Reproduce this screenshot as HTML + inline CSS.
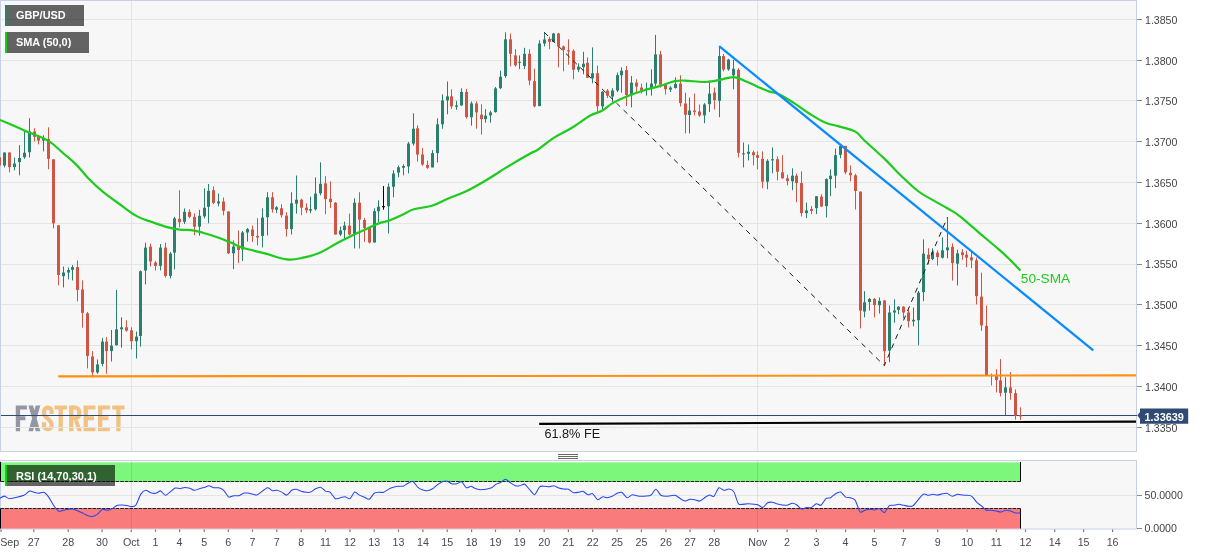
<!DOCTYPE html><html><head><meta charset="utf-8"><title>GBP/USD</title>
<style>html,body{margin:0;padding:0;background:#fff;}svg{display:block;will-change:transform;opacity:0.9999}text{font-family:"Liberation Sans",sans-serif;}</style></head><body>
<svg width="1207" height="555" viewBox="0 0 1207 555">
<rect x="0" y="0" width="1207" height="555" fill="#ffffff"/>
<rect x="0.5" y="0.5" width="1136.0" height="451.0" fill="#f7f7f7" stroke="#c9d0e6" stroke-width="1"/>
<rect x="0.5" y="460.5" width="1136.0" height="68.5" fill="#f7f7f7" stroke="#c9d0e6" stroke-width="1"/>
<path d="M15.8 405.5H20.1V431.3H15.8ZM15.8 405.5H26.9V409.5H15.8ZM15.8 416.3H25.4V420.2H15.8ZM28.4 405.5H33L40.3 431.3H35.7ZM35.7 405.5H40.3L33 431.3H28.4Z" fill="#9496a4"/>
<path d="M54.5 405.5H66.9V409.5H54.5ZM58.55 405.5H62.85V431.3H58.55ZM83.6 405.5H87.89999999999999V431.3H83.6ZM83.6 405.5H95.5V409.5H83.6ZM83.6 416.3H94.0V420.2H83.6ZM83.6 427.3H95.5V431.3H83.6ZM98 405.5H102.3V431.3H98ZM98 405.5H109.9V409.5H98ZM98 416.3H108.4V420.2H98ZM98 427.3H109.9V431.3H98ZM112.2 405.5H124.60000000000001V409.5H112.2ZM116.25 405.5H120.55V431.3H116.25ZM69.1 405.5H73.4V431.3H69.1ZM77.6 419.6L82 431.3H77.5L74 420.4Z" fill="#f1c283"/>
<path d="M71.2 407.5H75.2A4 4 0 0 1 79.2 411.5V414.2A4 4 0 0 1 75.2 418.2H71.2" fill="none" stroke="#f1c283" stroke-width="4.1"/>
<path d="M51.6 414V411.3A3.6 3.6 0 0 0 48 407.6H47.6A3.6 3.6 0 0 0 44 411.3V413.2C44 418 51.6 419.5 51.6 424.6V425.5A3.6 3.6 0 0 1 48 429.2H47.6A3.6 3.6 0 0 1 44 425.5V422.3" fill="none" stroke="#f1c283" stroke-width="4.2"/>
<g stroke="#e4e4e4" stroke-width="1" shape-rendering="crispEdges">
<line x1="1" x2="1136" y1="19.5" y2="19.5"/>
<line x1="1" x2="1136" y1="60.5" y2="60.5"/>
<line x1="1" x2="1136" y1="100.5" y2="100.5"/>
<line x1="1" x2="1136" y1="141.5" y2="141.5"/>
<line x1="1" x2="1136" y1="182.5" y2="182.5"/>
<line x1="1" x2="1136" y1="223.5" y2="223.5"/>
<line x1="1" x2="1136" y1="264.5" y2="264.5"/>
<line x1="1" x2="1136" y1="304.5" y2="304.5"/>
<line x1="1" x2="1136" y1="345.5" y2="345.5"/>
<line x1="1" x2="1136" y1="386.5" y2="386.5"/>
<line x1="1" x2="1136" y1="427.5" y2="427.5"/>
<line x1="131.5" x2="131.5" y1="1" y2="451"/>
<line x1="757.5" x2="757.5" y1="1" y2="451"/>
</g>
<line x1="1" x2="1137" y1="415.5" y2="415.5" stroke="#2f4a73" stroke-width="1" shape-rendering="crispEdges"/>
<g stroke-width="1"><line x1="-0.5" x2="-0.5" y1="149.7" y2="174.6" stroke="#cf5544"/><line x1="4.5" x2="4.5" y1="152.5" y2="167.4" stroke="#2b806d"/><line x1="9.5" x2="9.5" y1="152.5" y2="172.4" stroke="#cf5544"/><line x1="14.5" x2="14.5" y1="157.5" y2="170.4" stroke="#2b806d"/><line x1="19.5" x2="19.5" y1="145.2" y2="175.4" stroke="#2b806d"/><line x1="24.5" x2="24.5" y1="131.5" y2="158.8" stroke="#2b806d"/><line x1="29.5" x2="29.5" y1="118.2" y2="157.5" stroke="#2b806d"/><line x1="34.5" x2="34.5" y1="128.2" y2="141.4" stroke="#cf5544"/><line x1="38.5" x2="38.5" y1="134.8" y2="144.4" stroke="#cf5544"/><line x1="43.5" x2="43.5" y1="135.3" y2="151.4" stroke="#2b806d"/><line x1="48.5" x2="48.5" y1="127.3" y2="169.3" stroke="#cf5544"/><line x1="53.5" x2="53.5" y1="159.3" y2="228.3" stroke="#cf5544"/><line x1="58.5" x2="58.5" y1="225.3" y2="285.4" stroke="#cf5544"/><line x1="63.5" x2="63.5" y1="266.5" y2="287.4" stroke="#2b806d"/><line x1="68.5" x2="68.5" y1="267.5" y2="279.4" stroke="#2b806d"/><line x1="72.5" x2="72.5" y1="265.1" y2="280.4" stroke="#2b806d"/><line x1="77.5" x2="77.5" y1="260.5" y2="301.4" stroke="#cf5544"/><line x1="82.5" x2="82.5" y1="280.3" y2="327.7" stroke="#cf5544"/><line x1="87.5" x2="87.5" y1="312.0" y2="368.4" stroke="#cf5544"/><line x1="92.5" x2="92.5" y1="351.1" y2="377.4" stroke="#cf5544"/><line x1="97.5" x2="97.5" y1="359.5" y2="373.8" stroke="#2b806d"/><line x1="102.5" x2="102.5" y1="338.0" y2="366.4" stroke="#2b806d"/><line x1="106.5" x2="106.5" y1="337.2" y2="373.8" stroke="#cf5544"/><line x1="111.5" x2="111.5" y1="330.0" y2="361.5" stroke="#2b806d"/><line x1="116.5" x2="116.5" y1="289.9" y2="345.6" stroke="#2b806d"/><line x1="121.5" x2="121.5" y1="317.3" y2="347.6" stroke="#2b806d"/><line x1="126.5" x2="126.5" y1="320.3" y2="331.6" stroke="#cf5544"/><line x1="131.5" x2="131.5" y1="327.3" y2="349.5" stroke="#cf5544"/><line x1="136.5" x2="136.5" y1="331.6" y2="358.5" stroke="#2b806d"/><line x1="140.5" x2="140.5" y1="270.5" y2="346.6" stroke="#2b806d"/><line x1="145.5" x2="145.5" y1="242.6" y2="284.4" stroke="#2b806d"/><line x1="150.5" x2="150.5" y1="243.6" y2="266.5" stroke="#cf5544"/><line x1="155.5" x2="155.5" y1="261.1" y2="270.5" stroke="#cf5544"/><line x1="160.5" x2="160.5" y1="244.0" y2="270.5" stroke="#2b806d"/><line x1="165.5" x2="165.5" y1="242.6" y2="277.5" stroke="#cf5544"/><line x1="170.5" x2="170.5" y1="252.0" y2="278.4" stroke="#2b806d"/><line x1="174.5" x2="174.5" y1="216.8" y2="269.5" stroke="#2b806d"/><line x1="179.5" x2="179.5" y1="190.3" y2="227.3" stroke="#cf5544"/><line x1="184.5" x2="184.5" y1="208.4" y2="224.1" stroke="#2b806d"/><line x1="189.5" x2="189.5" y1="209.4" y2="218.2" stroke="#cf5544"/><line x1="194.5" x2="194.5" y1="213.4" y2="235.3" stroke="#cf5544"/><line x1="199.5" x2="199.5" y1="209.8" y2="235.7" stroke="#2b806d"/><line x1="204.5" x2="204.5" y1="188.4" y2="218.4" stroke="#2b806d"/><line x1="208.5" x2="208.5" y1="184.0" y2="223.3" stroke="#2b806d"/><line x1="213.5" x2="213.5" y1="186.4" y2="204.3" stroke="#cf5544"/><line x1="218.5" x2="218.5" y1="193.5" y2="206.4" stroke="#2b806d"/><line x1="223.5" x2="223.5" y1="197.5" y2="215.4" stroke="#cf5544"/><line x1="228.5" x2="228.5" y1="211.4" y2="254.0" stroke="#cf5544"/><line x1="233.5" x2="233.5" y1="240.4" y2="269.1" stroke="#2b806d"/><line x1="238.5" x2="238.5" y1="230.6" y2="263.1" stroke="#cf5544"/><line x1="242.5" x2="242.5" y1="231.1" y2="261.0" stroke="#2b806d"/><line x1="247.5" x2="247.5" y1="228.0" y2="241.5" stroke="#2b806d"/><line x1="252.5" x2="252.5" y1="225.6" y2="241.9" stroke="#cf5544"/><line x1="257.5" x2="257.5" y1="218.2" y2="245.4" stroke="#cf5544"/><line x1="262.5" x2="262.5" y1="208.3" y2="247.4" stroke="#2b806d"/><line x1="267.5" x2="267.5" y1="192.2" y2="235.5" stroke="#2b806d"/><line x1="272.5" x2="272.5" y1="192.2" y2="212.6" stroke="#cf5544"/><line x1="276.5" x2="276.5" y1="206.1" y2="213.2" stroke="#2b806d"/><line x1="281.5" x2="281.5" y1="204.3" y2="217.6" stroke="#cf5544"/><line x1="286.5" x2="286.5" y1="212.2" y2="236.5" stroke="#cf5544"/><line x1="291.5" x2="291.5" y1="192.2" y2="234.5" stroke="#2b806d"/><line x1="296.5" x2="296.5" y1="175.5" y2="213.6" stroke="#2b806d"/><line x1="301.5" x2="301.5" y1="198.7" y2="215.2" stroke="#cf5544"/><line x1="306.5" x2="306.5" y1="203.3" y2="213.2" stroke="#cf5544"/><line x1="310.5" x2="310.5" y1="196.7" y2="213.2" stroke="#2b806d"/><line x1="315.5" x2="315.5" y1="177.4" y2="210.6" stroke="#2b806d"/><line x1="320.5" x2="320.5" y1="162.3" y2="195.3" stroke="#2b806d"/><line x1="325.5" x2="325.5" y1="176.2" y2="214.2" stroke="#cf5544"/><line x1="330.5" x2="330.5" y1="181.4" y2="208.1" stroke="#cf5544"/><line x1="335.5" x2="335.5" y1="202.1" y2="234.5" stroke="#cf5544"/><line x1="340.5" x2="340.5" y1="226.6" y2="235.9" stroke="#2b806d"/><line x1="344.5" x2="344.5" y1="221.6" y2="238.5" stroke="#2b806d"/><line x1="349.5" x2="349.5" y1="213.6" y2="235.5" stroke="#cf5544"/><line x1="354.5" x2="354.5" y1="198.3" y2="248.4" stroke="#2b806d"/><line x1="359.5" x2="359.5" y1="192.2" y2="248.4" stroke="#cf5544"/><line x1="364.5" x2="364.5" y1="218.0" y2="241.9" stroke="#cf5544"/><line x1="369.5" x2="369.5" y1="227.9" y2="243.5" stroke="#cf5544"/><line x1="374.5" x2="374.5" y1="208.3" y2="242.5" stroke="#2b806d"/><line x1="378.5" x2="378.5" y1="200.3" y2="222.0" stroke="#2b806d"/><line x1="383.5" x2="383.5" y1="186.1" y2="209.7" stroke="#000"/><line x1="388.5" x2="388.5" y1="183.4" y2="233.5" stroke="#2b806d"/><line x1="393.5" x2="393.5" y1="170.3" y2="197.3" stroke="#2b806d"/><line x1="398.5" x2="398.5" y1="165.6" y2="177.4" stroke="#2b806d"/><line x1="403.5" x2="403.5" y1="164.2" y2="175.4" stroke="#2b806d"/><line x1="408.5" x2="408.5" y1="142.0" y2="173.4" stroke="#2b806d"/><line x1="413.5" x2="413.5" y1="113.3" y2="145.6" stroke="#2b806d"/><line x1="417.5" x2="417.5" y1="125.3" y2="161.5" stroke="#cf5544"/><line x1="422.5" x2="422.5" y1="148.1" y2="165.8" stroke="#cf5544"/><line x1="427.5" x2="427.5" y1="160.5" y2="168.8" stroke="#cf5544"/><line x1="432.5" x2="432.5" y1="150.1" y2="167.4" stroke="#2b806d"/><line x1="437.5" x2="437.5" y1="118.3" y2="162.5" stroke="#2b806d"/><line x1="442.5" x2="442.5" y1="94.3" y2="128.7" stroke="#2b806d"/><line x1="447.5" x2="447.5" y1="81.5" y2="114.3" stroke="#2b806d"/><line x1="451.5" x2="451.5" y1="89.3" y2="108.8" stroke="#cf5544"/><line x1="456.5" x2="456.5" y1="100.8" y2="109.8" stroke="#2b806d"/><line x1="461.5" x2="461.5" y1="88.3" y2="105.8" stroke="#2b806d"/><line x1="466.5" x2="466.5" y1="88.9" y2="118.7" stroke="#cf5544"/><line x1="471.5" x2="471.5" y1="101.4" y2="125.7" stroke="#2b806d"/><line x1="476.5" x2="476.5" y1="101.4" y2="128.7" stroke="#cf5544"/><line x1="481.5" x2="481.5" y1="104.2" y2="134.6" stroke="#cf5544"/><line x1="485.5" x2="485.5" y1="109.2" y2="122.7" stroke="#2b806d"/><line x1="490.5" x2="490.5" y1="110.8" y2="122.7" stroke="#2b806d"/><line x1="495.5" x2="495.5" y1="87.0" y2="112.6" stroke="#2b806d"/><line x1="500.5" x2="500.5" y1="70.7" y2="89.1" stroke="#2b806d"/><line x1="505.5" x2="505.5" y1="32.3" y2="77.8" stroke="#2b806d"/><line x1="510.5" x2="510.5" y1="33.5" y2="66.3" stroke="#cf5544"/><line x1="515.5" x2="515.5" y1="49.4" y2="66.7" stroke="#cf5544"/><line x1="519.5" x2="519.5" y1="55.4" y2="69.1" stroke="#2b806d"/><line x1="524.5" x2="524.5" y1="47.8" y2="69.1" stroke="#2b806d"/><line x1="529.5" x2="529.5" y1="49.4" y2="85.2" stroke="#cf5544"/><line x1="534.5" x2="534.5" y1="68.7" y2="107.3" stroke="#cf5544"/><line x1="539.5" x2="539.5" y1="40.3" y2="106.1" stroke="#2b806d"/><line x1="544.5" x2="544.5" y1="32.3" y2="46.4" stroke="#2b806d"/><line x1="549.5" x2="549.5" y1="36.9" y2="49.2" stroke="#cf5544"/><line x1="553.5" x2="553.5" y1="32.9" y2="42.3" stroke="#2b806d"/><line x1="558.5" x2="558.5" y1="32.9" y2="67.3" stroke="#cf5544"/><line x1="563.5" x2="563.5" y1="45.5" y2="71.3" stroke="#cf5544"/><line x1="568.5" x2="568.5" y1="39.3" y2="64.7" stroke="#cf5544"/><line x1="573.5" x2="573.5" y1="49.4" y2="79.3" stroke="#cf5544"/><line x1="578.5" x2="578.5" y1="63.3" y2="72.1" stroke="#2b806d"/><line x1="583.5" x2="583.5" y1="51.8" y2="74.3" stroke="#2b806d"/><line x1="587.5" x2="587.5" y1="57.4" y2="78.1" stroke="#cf5544"/><line x1="592.5" x2="592.5" y1="47.4" y2="83.3" stroke="#2b806d"/><line x1="597.5" x2="597.5" y1="65.7" y2="111.6" stroke="#cf5544"/><line x1="602.5" x2="602.5" y1="91.0" y2="109.0" stroke="#2b806d"/><line x1="607.5" x2="607.5" y1="89.1" y2="98.1" stroke="#cf5544"/><line x1="612.5" x2="612.5" y1="88.2" y2="102.6" stroke="#2b806d"/><line x1="617.5" x2="617.5" y1="72.5" y2="92.1" stroke="#2b806d"/><line x1="621.5" x2="621.5" y1="67.3" y2="92.7" stroke="#2b806d"/><line x1="626.5" x2="626.5" y1="66.1" y2="106.1" stroke="#cf5544"/><line x1="631.5" x2="631.5" y1="76.1" y2="107.4" stroke="#2b806d"/><line x1="636.5" x2="636.5" y1="79.3" y2="92.0" stroke="#cf5544"/><line x1="641.5" x2="641.5" y1="83.6" y2="93.6" stroke="#cf5544"/><line x1="646.5" x2="646.5" y1="82.6" y2="95.6" stroke="#2b806d"/><line x1="651.5" x2="651.5" y1="69.3" y2="95.6" stroke="#2b806d"/><line x1="655.5" x2="655.5" y1="34.9" y2="86.6" stroke="#2b806d"/><line x1="660.5" x2="660.5" y1="50.8" y2="87.6" stroke="#cf5544"/><line x1="665.5" x2="665.5" y1="83.2" y2="94.6" stroke="#cf5544"/><line x1="670.5" x2="670.5" y1="86.2" y2="92.0" stroke="#2b806d"/><line x1="675.5" x2="675.5" y1="77.3" y2="88.6" stroke="#2b806d"/><line x1="680.5" x2="680.5" y1="75.3" y2="106.5" stroke="#cf5544"/><line x1="685.5" x2="685.5" y1="92.6" y2="133.4" stroke="#cf5544"/><line x1="689.5" x2="689.5" y1="97.5" y2="133.4" stroke="#2b806d"/><line x1="694.5" x2="694.5" y1="93.6" y2="115.4" stroke="#cf5544"/><line x1="699.5" x2="699.5" y1="104.5" y2="116.8" stroke="#cf5544"/><line x1="704.5" x2="704.5" y1="103.1" y2="123.2" stroke="#2b806d"/><line x1="709.5" x2="709.5" y1="80.6" y2="112.1" stroke="#2b806d"/><line x1="714.5" x2="714.5" y1="87.6" y2="109.5" stroke="#cf5544"/><line x1="719.5" x2="719.5" y1="46.0" y2="117.2" stroke="#2b806d"/><line x1="723.5" x2="723.5" y1="54.0" y2="71.4" stroke="#cf5544"/><line x1="728.5" x2="728.5" y1="58.8" y2="70.8" stroke="#2b806d"/><line x1="733.5" x2="733.5" y1="59.8" y2="89.3" stroke="#2b806d"/><line x1="738.5" x2="738.5" y1="68.2" y2="157.4" stroke="#cf5544"/><line x1="743.5" x2="743.5" y1="142.5" y2="167.4" stroke="#2b806d"/><line x1="748.5" x2="748.5" y1="144.5" y2="160.4" stroke="#2b806d"/><line x1="753.5" x2="753.5" y1="150.5" y2="165.4" stroke="#cf5544"/><line x1="757.5" x2="757.5" y1="151.4" y2="169.3" stroke="#cf5544"/><line x1="762.5" x2="762.5" y1="151.4" y2="188.2" stroke="#cf5544"/><line x1="767.5" x2="767.5" y1="159.2" y2="189.2" stroke="#2b806d"/><line x1="772.5" x2="772.5" y1="147.5" y2="173.3" stroke="#2b806d"/><line x1="777.5" x2="777.5" y1="156.4" y2="180.3" stroke="#cf5544"/><line x1="782.5" x2="782.5" y1="155.2" y2="178.7" stroke="#cf5544"/><line x1="787.5" x2="787.5" y1="174.7" y2="185.3" stroke="#cf5544"/><line x1="792.5" x2="792.5" y1="168.3" y2="190.2" stroke="#2b806d"/><line x1="796.5" x2="796.5" y1="173.7" y2="202.2" stroke="#cf5544"/><line x1="801.5" x2="801.5" y1="171.3" y2="216.5" stroke="#cf5544"/><line x1="806.5" x2="806.5" y1="202.6" y2="218.1" stroke="#2b806d"/><line x1="811.5" x2="811.5" y1="206.1" y2="214.1" stroke="#cf5544"/><line x1="816.5" x2="816.5" y1="196.2" y2="214.1" stroke="#2b806d"/><line x1="821.5" x2="821.5" y1="194.2" y2="207.1" stroke="#cf5544"/><line x1="826.5" x2="826.5" y1="178.3" y2="217.5" stroke="#2b806d"/><line x1="830.5" x2="830.5" y1="169.3" y2="196.2" stroke="#2b806d"/><line x1="835.5" x2="835.5" y1="148.5" y2="188.2" stroke="#2b806d"/><line x1="840.5" x2="840.5" y1="143.9" y2="158.2" stroke="#2b806d"/><line x1="845.5" x2="845.5" y1="145.9" y2="174.3" stroke="#cf5544"/><line x1="850.5" x2="850.5" y1="165.4" y2="181.3" stroke="#cf5544"/><line x1="855.5" x2="855.5" y1="173.7" y2="209.5" stroke="#cf5544"/><line x1="860.5" x2="860.5" y1="191.6" y2="328.4" stroke="#cf5544"/><line x1="864.5" x2="864.5" y1="291.2" y2="317.4" stroke="#2b806d"/><line x1="869.5" x2="869.5" y1="298.0" y2="310.5" stroke="#2b806d"/><line x1="874.5" x2="874.5" y1="298.0" y2="317.4" stroke="#cf5544"/><line x1="879.5" x2="879.5" y1="297.5" y2="313.5" stroke="#2b806d"/><line x1="884.5" x2="884.5" y1="300.0" y2="365.6" stroke="#cf5544"/><line x1="889.5" x2="889.5" y1="305.5" y2="362.2" stroke="#2b806d"/><line x1="894.5" x2="894.5" y1="299.2" y2="322.8" stroke="#2b806d"/><line x1="898.5" x2="898.5" y1="306.2" y2="314.3" stroke="#2b806d"/><line x1="903.5" x2="903.5" y1="306.3" y2="318.4" stroke="#cf5544"/><line x1="908.5" x2="908.5" y1="309.7" y2="327.4" stroke="#cf5544"/><line x1="913.5" x2="913.5" y1="307.5" y2="326.4" stroke="#2b806d"/><line x1="918.5" x2="918.5" y1="291.0" y2="345.3" stroke="#2b806d"/><line x1="923.5" x2="923.5" y1="239.4" y2="301.2" stroke="#2b806d"/><line x1="928.5" x2="928.5" y1="248.3" y2="264.3" stroke="#cf5544"/><line x1="932.5" x2="932.5" y1="248.3" y2="260.3" stroke="#2b806d"/><line x1="937.5" x2="937.5" y1="250.3" y2="265.6" stroke="#cf5544"/><line x1="942.5" x2="942.5" y1="237.4" y2="258.7" stroke="#2b806d"/><line x1="947.5" x2="947.5" y1="217.3" y2="258.3" stroke="#2b806d"/><line x1="952.5" x2="952.5" y1="243.4" y2="280.6" stroke="#cf5544"/><line x1="957.5" x2="957.5" y1="249.7" y2="285.5" stroke="#2b806d"/><line x1="962.5" x2="962.5" y1="249.1" y2="259.7" stroke="#cf5544"/><line x1="966.5" x2="966.5" y1="250.7" y2="267.2" stroke="#cf5544"/><line x1="971.5" x2="971.5" y1="252.3" y2="268.2" stroke="#cf5544"/><line x1="976.5" x2="976.5" y1="257.7" y2="304.4" stroke="#cf5544"/><line x1="981.5" x2="981.5" y1="272.6" y2="330.8" stroke="#cf5544"/><line x1="986.5" x2="986.5" y1="305.5" y2="375.5" stroke="#cf5544"/><line x1="991.5" x2="991.5" y1="373.5" y2="385.4" stroke="#cf5544"/><line x1="996.5" x2="996.5" y1="369.3" y2="392.4" stroke="#cf5544"/><line x1="1000.5" x2="1000.5" y1="359.1" y2="396.4" stroke="#cf5544"/><line x1="1005.5" x2="1005.5" y1="377.2" y2="415.2" stroke="#2b806d"/><line x1="1010.5" x2="1010.5" y1="372.1" y2="399.7" stroke="#cf5544"/><line x1="1015.5" x2="1015.5" y1="389.4" y2="419.6" stroke="#cf5544"/><line x1="1020.5" x2="1020.5" y1="407.3" y2="420.0" stroke="#cf5544"/></g>
<g><rect x="-2.0" y="157.2" width="3" height="8.3" fill="#cf5544"/><rect x="3.0" y="152.5" width="3" height="13.0" fill="#2b806d"/><rect x="8.0" y="152.5" width="3" height="14.6" fill="#cf5544"/><rect x="13.0" y="163.5" width="3" height="3.6" fill="#2b806d"/><rect x="18.0" y="158.0" width="3" height="4.1" fill="#2b806d"/><rect x="23.0" y="152.7" width="3" height="4.5" fill="#2b806d"/><rect x="28.0" y="131.5" width="3" height="20.7" fill="#2b806d"/><rect x="33.0" y="131.5" width="3" height="5.3" fill="#cf5544"/><rect x="37.0" y="136.8" width="3" height="3.8" fill="#cf5544"/><rect x="42.0" y="138.4" width="3" height="2.2" fill="#2b806d"/><rect x="47.0" y="138.9" width="3" height="19.9" fill="#cf5544"/><rect x="52.0" y="159.3" width="3" height="64.0" fill="#cf5544"/><rect x="57.0" y="225.3" width="3" height="49.7" fill="#cf5544"/><rect x="62.0" y="272.5" width="3" height="3.7" fill="#2b806d"/><rect x="67.0" y="270.1" width="3" height="2.4" fill="#2b806d"/><rect x="71.0" y="267.1" width="3" height="2.8" fill="#2b806d"/><rect x="76.0" y="267.1" width="3" height="22.8" fill="#cf5544"/><rect x="81.0" y="289.5" width="3" height="23.3" fill="#cf5544"/><rect x="86.0" y="313.3" width="3" height="42.6" fill="#cf5544"/><rect x="91.0" y="356.5" width="3" height="15.9" fill="#cf5544"/><rect x="96.0" y="364.5" width="3" height="7.9" fill="#2b806d"/><rect x="101.0" y="341.6" width="3" height="22.3" fill="#2b806d"/><rect x="105.0" y="341.6" width="3" height="9.5" fill="#cf5544"/><rect x="110.0" y="345.6" width="3" height="5.5" fill="#2b806d"/><rect x="115.0" y="329.3" width="3" height="15.9" fill="#2b806d"/><rect x="120.0" y="327.3" width="3" height="2.0" fill="#2b806d"/><rect x="125.0" y="327.3" width="3" height="3.3" fill="#cf5544"/><rect x="130.0" y="330.3" width="3" height="10.9" fill="#cf5544"/><rect x="135.0" y="336.6" width="3" height="4.6" fill="#2b806d"/><rect x="139.0" y="271.2" width="3" height="64.8" fill="#2b806d"/><rect x="144.0" y="247.6" width="3" height="22.9" fill="#2b806d"/><rect x="149.0" y="246.6" width="3" height="14.9" fill="#cf5544"/><rect x="154.0" y="262.5" width="3" height="3.4" fill="#cf5544"/><rect x="159.0" y="247.6" width="3" height="18.3" fill="#2b806d"/><rect x="164.0" y="247.6" width="3" height="28.3" fill="#cf5544"/><rect x="169.0" y="253.6" width="3" height="22.3" fill="#2b806d"/><rect x="173.0" y="218.4" width="3" height="34.2" fill="#2b806d"/><rect x="178.0" y="218.8" width="3" height="3.4" fill="#cf5544"/><rect x="183.0" y="211.8" width="3" height="10.0" fill="#2b806d"/><rect x="188.0" y="211.8" width="3" height="5.0" fill="#cf5544"/><rect x="193.0" y="216.8" width="3" height="9.9" fill="#cf5544"/><rect x="198.0" y="215.8" width="3" height="10.9" fill="#2b806d"/><rect x="203.0" y="207.8" width="3" height="8.6" fill="#2b806d"/><rect x="207.0" y="190.9" width="3" height="15.9" fill="#2b806d"/><rect x="212.0" y="190.3" width="3" height="12.6" fill="#cf5544"/><rect x="217.0" y="201.5" width="3" height="2.0" fill="#2b806d"/><rect x="222.0" y="201.5" width="3" height="9.3" fill="#cf5544"/><rect x="227.0" y="211.5" width="3" height="41.8" fill="#cf5544"/><rect x="232.0" y="246.5" width="3" height="6.8" fill="#2b806d"/><rect x="237.0" y="247.0" width="3" height="3.0" fill="#cf5544"/><rect x="241.0" y="232.5" width="3" height="16.9" fill="#2b806d"/><rect x="246.0" y="229.1" width="3" height="3.4" fill="#2b806d"/><rect x="251.0" y="229.5" width="3" height="6.4" fill="#cf5544"/><rect x="256.0" y="235.9" width="3" height="1.6" fill="#cf5544"/><rect x="261.0" y="217.6" width="3" height="18.3" fill="#2b806d"/><rect x="266.0" y="197.3" width="3" height="19.9" fill="#2b806d"/><rect x="271.0" y="197.3" width="3" height="12.0" fill="#cf5544"/><rect x="275.0" y="207.3" width="3" height="2.4" fill="#2b806d"/><rect x="280.0" y="208.3" width="3" height="6.9" fill="#cf5544"/><rect x="285.0" y="215.6" width="3" height="13.5" fill="#cf5544"/><rect x="290.0" y="203.3" width="3" height="25.8" fill="#2b806d"/><rect x="295.0" y="199.7" width="3" height="4.0" fill="#2b806d"/><rect x="300.0" y="199.7" width="3" height="8.0" fill="#cf5544"/><rect x="305.0" y="207.7" width="3" height="2.6" fill="#cf5544"/><rect x="309.0" y="209.1" width="3" height="1.5" fill="#2b806d"/><rect x="314.0" y="193.7" width="3" height="15.6" fill="#2b806d"/><rect x="319.0" y="183.8" width="3" height="9.5" fill="#2b806d"/><rect x="324.0" y="183.4" width="3" height="15.7" fill="#cf5544"/><rect x="329.0" y="198.7" width="3" height="3.4" fill="#cf5544"/><rect x="334.0" y="202.7" width="3" height="31.8" fill="#cf5544"/><rect x="339.0" y="230.5" width="3" height="4.0" fill="#2b806d"/><rect x="343.0" y="225.6" width="3" height="4.5" fill="#2b806d"/><rect x="348.0" y="225.6" width="3" height="8.9" fill="#cf5544"/><rect x="353.0" y="202.7" width="3" height="31.8" fill="#2b806d"/><rect x="358.0" y="202.7" width="3" height="16.9" fill="#cf5544"/><rect x="363.0" y="220.0" width="3" height="7.9" fill="#cf5544"/><rect x="368.0" y="227.9" width="3" height="14.6" fill="#cf5544"/><rect x="373.0" y="211.2" width="3" height="31.3" fill="#2b806d"/><rect x="377.0" y="206.7" width="3" height="4.5" fill="#2b806d"/><rect x="382.0" y="206.2" width="3" height="1.0" fill="#000"/><rect x="387.0" y="186.8" width="3" height="19.5" fill="#2b806d"/><rect x="392.0" y="173.5" width="3" height="13.3" fill="#2b806d"/><rect x="397.0" y="167.2" width="3" height="5.4" fill="#2b806d"/><rect x="402.0" y="166.0" width="3" height="1.7" fill="#2b806d"/><rect x="407.0" y="143.6" width="3" height="22.8" fill="#2b806d"/><rect x="412.0" y="128.7" width="3" height="14.9" fill="#2b806d"/><rect x="416.0" y="128.3" width="3" height="26.2" fill="#cf5544"/><rect x="421.0" y="154.5" width="3" height="10.0" fill="#cf5544"/><rect x="426.0" y="165.0" width="3" height="2.8" fill="#cf5544"/><rect x="431.0" y="153.1" width="3" height="14.3" fill="#2b806d"/><rect x="436.0" y="124.3" width="3" height="28.8" fill="#2b806d"/><rect x="441.0" y="100.4" width="3" height="23.9" fill="#2b806d"/><rect x="446.0" y="96.4" width="3" height="4.0" fill="#2b806d"/><rect x="450.0" y="96.4" width="3" height="10.0" fill="#cf5544"/><rect x="455.0" y="105.4" width="3" height="1.4" fill="#2b806d"/><rect x="460.0" y="91.9" width="3" height="13.5" fill="#2b806d"/><rect x="465.0" y="91.9" width="3" height="25.2" fill="#cf5544"/><rect x="470.0" y="103.4" width="3" height="13.9" fill="#2b806d"/><rect x="475.0" y="103.4" width="3" height="9.0" fill="#cf5544"/><rect x="480.0" y="114.7" width="3" height="4.4" fill="#cf5544"/><rect x="484.0" y="115.7" width="3" height="3.4" fill="#2b806d"/><rect x="489.0" y="112.4" width="3" height="2.9" fill="#2b806d"/><rect x="494.0" y="88.4" width="3" height="23.7" fill="#2b806d"/><rect x="499.0" y="76.8" width="3" height="11.3" fill="#2b806d"/><rect x="504.0" y="39.3" width="3" height="36.8" fill="#2b806d"/><rect x="509.0" y="39.3" width="3" height="14.5" fill="#cf5544"/><rect x="514.0" y="55.4" width="3" height="9.9" fill="#cf5544"/><rect x="518.0" y="61.8" width="3" height="1.0" fill="#2b806d"/><rect x="523.0" y="53.8" width="3" height="12.3" fill="#2b806d"/><rect x="528.0" y="53.8" width="3" height="26.8" fill="#cf5544"/><rect x="533.0" y="81.2" width="3" height="25.1" fill="#cf5544"/><rect x="538.0" y="43.5" width="3" height="62.6" fill="#2b806d"/><rect x="543.0" y="39.5" width="3" height="4.0" fill="#2b806d"/><rect x="548.0" y="38.9" width="3" height="3.0" fill="#cf5544"/><rect x="552.0" y="33.5" width="3" height="8.4" fill="#2b806d"/><rect x="557.0" y="33.5" width="3" height="13.0" fill="#cf5544"/><rect x="562.0" y="46.4" width="3" height="3.4" fill="#cf5544"/><rect x="567.0" y="50.2" width="3" height="1.2" fill="#cf5544"/><rect x="572.0" y="50.8" width="3" height="18.9" fill="#cf5544"/><rect x="577.0" y="66.7" width="3" height="3.0" fill="#2b806d"/><rect x="582.0" y="63.7" width="3" height="3.4" fill="#2b806d"/><rect x="586.0" y="62.8" width="3" height="14.9" fill="#cf5544"/><rect x="591.0" y="73.2" width="3" height="5.0" fill="#2b806d"/><rect x="596.0" y="73.2" width="3" height="32.9" fill="#cf5544"/><rect x="601.0" y="91.7" width="3" height="14.7" fill="#2b806d"/><rect x="606.0" y="90.7" width="3" height="5.0" fill="#cf5544"/><rect x="611.0" y="90.5" width="3" height="6.0" fill="#2b806d"/><rect x="616.0" y="75.1" width="3" height="15.4" fill="#2b806d"/><rect x="620.0" y="70.8" width="3" height="4.5" fill="#2b806d"/><rect x="625.0" y="70.1" width="3" height="24.9" fill="#cf5544"/><rect x="630.0" y="82.7" width="3" height="12.5" fill="#2b806d"/><rect x="635.0" y="82.6" width="3" height="4.0" fill="#cf5544"/><rect x="640.0" y="87.6" width="3" height="3.0" fill="#cf5544"/><rect x="645.0" y="88.6" width="3" height="1.0" fill="#2b806d"/><rect x="650.0" y="83.6" width="3" height="5.0" fill="#2b806d"/><rect x="654.0" y="54.4" width="3" height="29.2" fill="#2b806d"/><rect x="659.0" y="54.4" width="3" height="30.2" fill="#cf5544"/><rect x="664.0" y="84.6" width="3" height="4.6" fill="#cf5544"/><rect x="669.0" y="87.6" width="3" height="2.0" fill="#2b806d"/><rect x="674.0" y="84.0" width="3" height="4.0" fill="#2b806d"/><rect x="679.0" y="83.6" width="3" height="19.5" fill="#cf5544"/><rect x="684.0" y="103.5" width="3" height="11.3" fill="#cf5544"/><rect x="688.0" y="110.5" width="3" height="4.5" fill="#2b806d"/><rect x="693.0" y="110.5" width="3" height="1.4" fill="#cf5544"/><rect x="698.0" y="111.5" width="3" height="3.9" fill="#cf5544"/><rect x="703.0" y="104.5" width="3" height="10.9" fill="#2b806d"/><rect x="708.0" y="93.6" width="3" height="10.5" fill="#2b806d"/><rect x="713.0" y="92.6" width="3" height="7.5" fill="#cf5544"/><rect x="718.0" y="56.1" width="3" height="44.7" fill="#2b806d"/><rect x="722.0" y="56.1" width="3" height="13.4" fill="#cf5544"/><rect x="727.0" y="59.6" width="3" height="9.8" fill="#2b806d"/><rect x="732.0" y="68.8" width="3" height="6.5" fill="#2b806d"/><rect x="737.0" y="69.8" width="3" height="83.0" fill="#cf5544"/><rect x="742.0" y="153.4" width="3" height="1.0" fill="#2b806d"/><rect x="747.0" y="151.8" width="3" height="2.0" fill="#2b806d"/><rect x="752.0" y="152.2" width="3" height="3.0" fill="#cf5544"/><rect x="756.0" y="155.2" width="3" height="2.6" fill="#cf5544"/><rect x="761.0" y="158.8" width="3" height="22.9" fill="#cf5544"/><rect x="766.0" y="160.8" width="3" height="20.9" fill="#2b806d"/><rect x="771.0" y="159.2" width="3" height="1.2" fill="#2b806d"/><rect x="776.0" y="159.2" width="3" height="12.5" fill="#cf5544"/><rect x="781.0" y="172.3" width="3" height="6.0" fill="#cf5544"/><rect x="786.0" y="178.3" width="3" height="2.8" fill="#cf5544"/><rect x="791.0" y="175.7" width="3" height="5.6" fill="#2b806d"/><rect x="795.0" y="175.7" width="3" height="7.4" fill="#cf5544"/><rect x="800.0" y="183.1" width="3" height="30.0" fill="#cf5544"/><rect x="805.0" y="210.5" width="3" height="2.6" fill="#2b806d"/><rect x="810.0" y="209.1" width="3" height="1.8" fill="#cf5544"/><rect x="815.0" y="196.2" width="3" height="11.9" fill="#2b806d"/><rect x="820.0" y="196.6" width="3" height="9.9" fill="#cf5544"/><rect x="825.0" y="179.1" width="3" height="27.0" fill="#2b806d"/><rect x="829.0" y="175.7" width="3" height="3.4" fill="#2b806d"/><rect x="834.0" y="155.2" width="3" height="20.5" fill="#2b806d"/><rect x="839.0" y="145.9" width="3" height="8.9" fill="#2b806d"/><rect x="844.0" y="145.9" width="3" height="26.4" fill="#cf5544"/><rect x="849.0" y="172.7" width="3" height="2.6" fill="#cf5544"/><rect x="854.0" y="175.3" width="3" height="15.7" fill="#cf5544"/><rect x="859.0" y="191.6" width="3" height="119.1" fill="#cf5544"/><rect x="863.0" y="302.3" width="3" height="9.2" fill="#2b806d"/><rect x="868.0" y="298.9" width="3" height="3.1" fill="#2b806d"/><rect x="873.0" y="298.9" width="3" height="6.2" fill="#cf5544"/><rect x="878.0" y="300.9" width="3" height="4.4" fill="#2b806d"/><rect x="883.0" y="300.5" width="3" height="50.7" fill="#cf5544"/><rect x="888.0" y="312.5" width="3" height="38.1" fill="#2b806d"/><rect x="893.0" y="310.5" width="3" height="2.0" fill="#2b806d"/><rect x="897.0" y="306.7" width="3" height="3.2" fill="#2b806d"/><rect x="902.0" y="306.7" width="3" height="5.8" fill="#cf5544"/><rect x="907.0" y="312.5" width="3" height="8.7" fill="#cf5544"/><rect x="912.0" y="319.8" width="3" height="1.6" fill="#2b806d"/><rect x="917.0" y="292.6" width="3" height="27.6" fill="#2b806d"/><rect x="922.0" y="253.7" width="3" height="38.4" fill="#2b806d"/><rect x="927.0" y="254.7" width="3" height="4.4" fill="#cf5544"/><rect x="931.0" y="252.1" width="3" height="7.0" fill="#2b806d"/><rect x="936.0" y="252.7" width="3" height="4.4" fill="#cf5544"/><rect x="941.0" y="250.3" width="3" height="7.4" fill="#2b806d"/><rect x="946.0" y="247.4" width="3" height="2.9" fill="#2b806d"/><rect x="951.0" y="246.8" width="3" height="16.3" fill="#cf5544"/><rect x="956.0" y="253.3" width="3" height="10.4" fill="#2b806d"/><rect x="961.0" y="252.3" width="3" height="2.8" fill="#cf5544"/><rect x="965.0" y="254.7" width="3" height="3.0" fill="#cf5544"/><rect x="970.0" y="257.3" width="3" height="3.0" fill="#cf5544"/><rect x="975.0" y="260.3" width="3" height="35.8" fill="#cf5544"/><rect x="980.0" y="296.6" width="3" height="28.8" fill="#cf5544"/><rect x="985.0" y="325.8" width="3" height="49.4" fill="#cf5544"/><rect x="990.0" y="375.2" width="3" height="1.0" fill="#cf5544"/><rect x="995.0" y="375.5" width="3" height="4.5" fill="#cf5544"/><rect x="999.0" y="380.4" width="3" height="12.5" fill="#cf5544"/><rect x="1004.0" y="387.4" width="3" height="5.3" fill="#2b806d"/><rect x="1009.0" y="387.4" width="3" height="5.7" fill="#cf5544"/><rect x="1014.0" y="393.2" width="3" height="22.4" fill="#cf5544"/><rect x="1019.0" y="415.4" width="3" height="1.0" fill="#cf5544"/></g>
<path d="M544.3 32.3L884.3 365.6L947.4 217.3" stroke="#1a1a1a" stroke-width="1" stroke-dasharray="5.2 4.9" fill="none" stroke-linejoin="miter"/>
<line x1="58.3" y1="376.4" x2="1136" y2="375.4" stroke="#ff9012" stroke-width="2.2"/>
<line x1="539.2" y1="423.9" x2="1136" y2="421.6" stroke="#000" stroke-width="2.1"/>
<text x="544.4" y="437.8" font-size="12.7" fill="#181818">61.8% FE</text>
<path d="M0.0 119.9C3.3 121.3 10.6 124.4 16.6 127.0C22.6 129.6 23.5 130.1 29.8 132.8C36.1 135.5 41.5 136.6 48.1 140.6C54.7 144.6 57.4 148.2 63.0 153.0C68.6 157.8 70.9 159.3 76.2 164.6C81.5 169.9 84.2 174.1 89.5 179.5C94.8 184.9 95.9 186.1 102.7 191.6C109.5 197.1 116.4 201.8 123.3 206.8C130.2 211.8 131.6 213.4 137.2 216.4C142.8 219.4 145.1 219.7 151.1 221.8C157.1 223.9 161.2 225.5 167.0 227.1C172.8 228.7 175.2 229.1 180.0 229.7C184.8 230.3 186.3 229.5 190.9 230.1C195.5 230.7 197.2 231.2 202.8 232.7C208.4 234.2 213.1 235.7 218.7 237.7C224.3 239.7 225.9 240.6 230.7 242.6C235.5 244.6 236.1 245.6 242.9 247.8C249.7 250.0 256.1 251.1 264.8 253.4C273.5 255.7 278.7 258.6 286.6 259.4C294.5 260.2 297.7 258.8 304.5 257.4C311.3 256.0 314.0 255.2 320.4 252.4C326.8 249.6 330.0 246.9 336.4 243.5C342.8 240.1 346.7 238.2 352.3 235.5C357.9 232.8 359.0 232.5 364.2 230.1C369.4 227.7 372.9 225.6 378.1 223.6C383.3 221.6 384.8 222.1 390.0 220.2C395.2 218.3 399.2 216.2 404.0 214.0C408.8 211.8 408.3 211.0 413.9 209.3C419.5 207.6 425.0 207.8 431.8 205.7C438.6 203.6 441.1 201.5 447.7 198.7C454.3 195.9 457.2 195.5 465.0 191.8C472.8 188.1 478.2 184.9 486.5 180.0C494.8 175.1 497.7 172.7 506.4 167.4C515.1 162.1 523.8 157.1 530.2 153.5C536.6 149.9 533.4 152.7 538.2 149.5C543.0 146.3 547.3 142.0 554.1 137.6C560.9 133.2 564.8 132.1 572.0 127.7C579.2 123.3 583.9 119.1 589.9 115.7C595.9 112.3 597.1 113.4 601.8 110.8C606.5 108.2 608.0 105.6 613.5 102.6C619.0 99.6 622.9 98.1 629.2 95.6C635.5 93.1 638.7 92.0 645.1 90.0C651.5 88.0 655.0 87.4 661.0 85.6C667.0 83.8 670.1 82.2 674.9 81.2C679.7 80.2 678.9 80.4 684.9 80.6C690.9 80.8 698.0 82.1 704.8 82.0C711.6 81.9 712.9 81.2 718.7 80.2C724.5 79.2 728.2 76.9 733.6 77.1C739.0 77.3 740.8 79.4 745.6 81.3C750.4 83.2 752.7 84.6 757.5 86.7C762.3 88.8 765.2 90.1 769.4 91.6C773.6 93.1 773.6 91.8 778.4 94.0C783.2 96.2 787.1 98.7 793.3 102.6C799.5 106.5 802.8 109.5 809.2 113.5C815.6 117.5 819.1 119.9 825.1 122.5C831.1 125.1 833.0 124.6 839.0 126.4C845.0 128.2 849.9 128.7 854.9 131.4C859.9 134.1 858.1 134.6 863.9 140.0C869.7 145.4 876.9 151.5 884.1 158.4C891.3 165.3 893.2 168.2 900.0 174.7C906.8 181.2 911.1 185.8 917.9 191.0C924.7 196.2 927.8 197.1 933.8 200.6C939.8 204.1 942.6 205.4 947.7 208.5C952.8 211.6 953.0 211.0 959.3 215.9C965.6 220.8 971.2 226.0 979.2 232.8C987.2 239.6 992.7 244.1 999.1 249.7C1005.5 255.3 1006.7 256.5 1011.0 260.7C1015.3 264.9 1018.5 268.6 1020.4 270.6" fill="none" stroke="#1dcb1d" stroke-width="2.2" stroke-linejoin="round" stroke-linecap="butt"/>
<line x1="719.1" y1="46.1" x2="1093.3" y2="350.3" stroke="#0a8aff" stroke-width="2.2"/>
<text x="1020.8" y="283" font-size="13.7" fill="#1dcb1d">50-SMA</text>
<rect x="5" y="5" width="79" height="21" fill="#000" fill-opacity="0.6"/><rect x="5" y="5" width="2" height="21" fill="#2a7f6c"/>
<text x="16" y="19.3" font-size="10.9" font-weight="bold" fill="#fff">GBP/USD</text>
<rect x="5" y="32" width="84" height="21" fill="#000" fill-opacity="0.6"/><rect x="5" y="32" width="2" height="21" fill="#11d011"/>
<text x="16" y="45.9" font-size="10.9" font-weight="bold" fill="#fff">SMA (50,0)</text>
<g font-size="10.6" fill="#444">
<line x1="1137" x2="1141.5" y1="19.5" y2="19.5" stroke="#8a8a8a" stroke-width="1" shape-rendering="crispEdges"/>
<text x="1145" y="23.7">1.3850</text>
<line x1="1137" x2="1141.5" y1="60.5" y2="60.5" stroke="#8a8a8a" stroke-width="1" shape-rendering="crispEdges"/>
<text x="1145" y="64.5">1.3800</text>
<line x1="1137" x2="1141.5" y1="100.5" y2="100.5" stroke="#8a8a8a" stroke-width="1" shape-rendering="crispEdges"/>
<text x="1145" y="105.3">1.3750</text>
<line x1="1137" x2="1141.5" y1="141.5" y2="141.5" stroke="#8a8a8a" stroke-width="1" shape-rendering="crispEdges"/>
<text x="1145" y="146.1">1.3700</text>
<line x1="1137" x2="1141.5" y1="182.5" y2="182.5" stroke="#8a8a8a" stroke-width="1" shape-rendering="crispEdges"/>
<text x="1145" y="186.9">1.3650</text>
<line x1="1137" x2="1141.5" y1="223.5" y2="223.5" stroke="#8a8a8a" stroke-width="1" shape-rendering="crispEdges"/>
<text x="1145" y="227.7">1.3600</text>
<line x1="1137" x2="1141.5" y1="264.5" y2="264.5" stroke="#8a8a8a" stroke-width="1" shape-rendering="crispEdges"/>
<text x="1145" y="268.4">1.3550</text>
<line x1="1137" x2="1141.5" y1="304.5" y2="304.5" stroke="#8a8a8a" stroke-width="1" shape-rendering="crispEdges"/>
<text x="1145" y="309.2">1.3500</text>
<line x1="1137" x2="1141.5" y1="345.5" y2="345.5" stroke="#8a8a8a" stroke-width="1" shape-rendering="crispEdges"/>
<text x="1145" y="350.0">1.3450</text>
<line x1="1137" x2="1141.5" y1="386.5" y2="386.5" stroke="#8a8a8a" stroke-width="1" shape-rendering="crispEdges"/>
<text x="1145" y="390.8">1.3400</text>
<line x1="1137" x2="1141.5" y1="427.5" y2="427.5" stroke="#8a8a8a" stroke-width="1" shape-rendering="crispEdges"/>
<text x="1145" y="431.6">1.3350</text>
</g>
<path d="M1137.3 415.4 L1140 412 L1140 408.4 L1188.2 408.4 L1188.2 423.8 L1140 423.8 L1140 418.8 Z" fill="#2f4a73"/>
<text x="1144.5" y="420.9" font-size="10.9" font-weight="bold" fill="#fff">1.33639</text>
<g stroke="#6e6763" stroke-width="1" shape-rendering="crispEdges"><line x1="558" x2="578" y1="454.5" y2="454.5"/><line x1="558" x2="578" y1="456.5" y2="456.5"/><line x1="558" x2="578" y1="458.5" y2="458.5"/></g>
<line x1="1" x2="1136" y1="495.5" y2="495.5" stroke="#e4e4e4" stroke-width="1" shape-rendering="crispEdges"/>
<rect x="0.5" y="462.4" width="1020" height="19.1" fill="#7cf77c"/>
<rect x="0.5" y="508.6" width="1020" height="20" fill="#fa7b7b"/>
<g stroke="#000" stroke-opacity="0.09" stroke-width="1" shape-rendering="crispEdges"><line x1="131.5" x2="131.5" y1="461" y2="529"/><line x1="757.5" x2="757.5" y1="461" y2="529"/></g>
<g stroke="#000" stroke-width="1" fill="none">
<line x1="0.5" x2="1020.5" y1="481.5" y2="481.5" stroke-dasharray="3.8 0.8" stroke-opacity="0.85"/>
<line x1="0.5" x2="1020.5" y1="508.5" y2="508.5" stroke-dasharray="3.8 0.8" stroke-opacity="0.85"/>
<line x1="1020.5" x2="1020.5" y1="462" y2="481.5"/><line x1="1020.5" x2="1020.5" y1="508.5" y2="528.5"/>
<line x1="0.5" x2="0.5" y1="462" y2="481.5"/><line x1="0.5" x2="0.5" y1="508.5" y2="528.5"/>
</g>
<path d="M0.0 498.3C0.5 498.0 3.2 496.1 4.4 496.1C5.6 496.1 7.6 498.8 9.9 498.7C12.2 498.6 21.6 496.2 23.9 495.3C26.2 494.4 28.2 491.5 29.4 491.1C30.6 490.8 32.7 492.0 33.8 492.3C34.9 492.6 37.6 493.3 38.8 493.3C40.0 493.3 42.5 491.9 43.7 492.3C44.9 492.7 47.5 495.5 48.7 497.1C49.9 498.7 52.5 504.0 53.7 505.6C54.9 507.2 57.5 510.7 58.7 511.2C59.9 511.7 62.0 510.5 63.6 510.2C65.2 509.9 70.5 508.7 72.6 509.0C74.7 509.3 79.8 511.8 81.5 512.6C83.2 513.4 86.2 515.1 87.5 515.6C88.8 516.1 91.3 516.8 92.5 516.6C93.7 516.4 96.2 515.1 97.4 514.2C98.6 513.3 101.2 509.7 102.4 509.2C103.6 508.7 106.2 510.3 107.4 510.2C108.6 510.1 111.1 509.2 112.3 508.6C113.5 508.0 116.1 505.7 117.3 505.3C118.5 504.9 121.1 504.9 122.3 504.9C123.5 504.9 126.3 505.4 127.3 505.6C128.3 505.8 130.2 506.6 131.2 506.6C132.2 506.6 134.7 506.8 135.8 505.3C136.9 503.8 139.6 495.9 140.8 494.1C142.0 492.4 144.6 490.5 145.8 490.3C147.0 490.1 149.5 492.3 150.7 492.7C151.9 493.1 154.5 493.5 155.7 493.3C156.9 493.1 159.5 490.7 160.7 490.9C161.9 491.1 163.9 495.6 165.6 495.3C167.3 495.0 173.3 488.9 175.0 488.1C176.7 487.3 178.8 488.8 180.0 488.7C181.2 488.6 183.7 487.4 184.9 487.4C186.1 487.4 188.8 488.0 189.9 488.3C191.0 488.6 193.4 490.3 194.5 490.3C195.6 490.3 198.2 489.0 199.4 488.7C200.6 488.4 203.3 487.7 204.4 487.4C205.5 487.1 207.7 485.8 208.8 485.8C209.9 485.8 212.6 487.6 213.8 487.8C215.0 488.0 217.5 487.5 218.7 487.8C219.9 488.1 222.5 489.2 223.7 490.3C224.9 491.4 227.5 496.5 228.7 497.1C229.9 497.7 232.4 495.9 233.6 495.7C234.8 495.5 237.8 496.0 239.0 495.7C240.2 495.4 242.9 493.4 243.9 493.1C244.9 492.8 246.8 493.0 247.9 493.1C249.0 493.2 251.8 494.1 252.9 494.3C254.0 494.5 255.8 495.5 257.5 494.7C259.2 493.9 265.7 488.3 267.4 487.8C269.1 487.3 271.3 490.4 272.4 490.7C273.5 491.0 275.7 490.1 276.8 490.3C277.9 490.5 280.5 491.5 281.7 492.1C282.9 492.7 285.5 495.3 286.7 495.1C287.9 494.9 290.6 491.0 291.7 490.3C292.8 489.6 295.1 489.2 296.2 489.3C297.3 489.4 300.0 490.9 301.2 491.3C302.4 491.7 305.1 492.2 306.2 492.3C307.3 492.4 309.5 492.5 310.6 492.1C311.7 491.7 314.3 489.3 315.5 488.7C316.7 488.1 319.3 486.9 320.5 487.2C321.7 487.5 324.4 490.5 325.5 491.1C326.6 491.7 328.8 491.2 330.0 492.1C331.2 493.0 334.2 498.0 335.4 498.7C336.6 499.4 339.3 497.9 340.4 497.7C341.5 497.5 343.9 496.6 345.0 496.7C346.1 496.8 348.8 499.2 349.9 498.7C351.0 498.2 353.6 492.5 354.7 492.1C355.8 491.7 358.2 494.5 359.3 495.1C360.4 495.7 363.1 496.6 364.3 497.1C365.5 497.6 368.0 499.7 369.2 499.3C370.4 498.9 373.0 494.1 374.2 493.3C375.4 492.5 378.1 492.4 379.2 492.3C380.3 492.2 382.6 492.7 383.7 492.3C384.8 491.9 387.6 489.7 388.7 489.1C389.8 488.5 392.4 487.5 393.5 487.2C394.6 486.9 397.3 486.3 398.5 486.2C399.7 486.1 402.3 486.6 403.4 486.2C404.5 485.8 406.9 483.8 408.0 483.2C409.1 482.6 411.8 480.9 413.0 481.4C414.2 481.9 416.7 486.4 417.9 487.4C419.1 488.4 421.8 489.7 422.9 490.1C424.0 490.5 426.4 490.9 427.5 490.7C428.6 490.5 431.3 489.4 432.5 488.7C433.7 488.0 436.2 485.6 437.4 484.8C438.6 484.0 441.3 482.2 442.4 481.8C443.5 481.4 446.1 481.0 447.2 481.2C448.3 481.4 450.6 483.5 451.7 483.8C452.8 484.1 455.5 484.0 456.7 483.8C457.9 483.6 460.6 481.3 461.7 481.8C462.8 482.3 465.2 487.3 466.3 487.8C467.4 488.3 470.0 486.1 471.0 486.2C472.0 486.3 473.8 487.9 475.0 488.3C476.2 488.7 479.0 489.7 480.9 489.7C482.8 489.7 489.2 488.7 490.9 488.1C492.6 487.5 494.6 485.1 495.8 484.4C497.0 483.7 499.7 483.0 500.8 482.4C501.9 481.8 504.3 479.2 505.4 479.2C506.5 479.2 509.2 482.0 510.4 482.8C511.6 483.6 514.2 485.4 515.3 485.8C516.4 486.2 518.6 486.0 519.7 485.8C520.8 485.6 523.5 483.7 524.7 484.2C525.9 484.7 528.5 488.5 529.7 489.7C530.9 490.9 533.4 495.0 534.6 494.7C535.8 494.4 538.5 487.8 539.6 486.8C540.7 485.8 543.1 486.2 544.2 486.2C545.3 486.2 548.0 486.8 549.1 486.8C550.2 486.8 552.8 485.6 553.9 485.8C555.0 486.0 557.7 487.7 558.9 488.1C560.1 488.5 562.8 489.0 563.9 489.1C565.0 489.2 567.3 488.9 568.4 489.3C569.5 489.7 572.2 492.3 573.4 492.7C574.6 493.1 577.3 492.5 578.4 492.3C579.5 492.1 581.8 491.0 582.9 491.3C584.0 491.6 586.8 494.4 587.9 494.7C589.0 495.0 591.6 493.1 592.7 493.7C593.8 494.3 596.5 499.3 597.7 499.7C598.9 500.1 601.7 496.9 602.8 496.7C603.9 496.5 606.1 497.7 607.2 497.7C608.3 497.7 611.0 496.8 612.2 496.3C613.4 495.8 616.0 493.8 617.1 493.3C618.2 492.8 620.5 491.8 621.7 492.3C622.9 492.8 625.9 497.4 627.1 497.7C628.3 498.0 631.0 494.9 632.1 494.7C633.2 494.5 635.5 495.5 636.6 495.7C637.7 495.9 640.3 496.3 641.4 496.3C642.5 496.3 645.3 496.2 646.4 496.1C647.5 496.0 649.9 495.9 651.0 495.1C652.1 494.3 654.7 489.3 655.9 489.3C657.1 489.3 659.7 494.5 660.9 495.3C662.1 496.1 664.7 496.3 665.9 496.3C667.1 496.3 669.7 495.8 670.8 495.7C671.9 495.6 674.3 494.9 675.4 495.3C676.5 495.7 679.3 498.0 680.4 498.7C681.5 499.4 684.1 501.0 685.2 501.1C686.3 501.2 689.0 499.5 690.1 499.3C691.2 499.1 693.6 499.5 694.7 499.7C695.8 499.9 698.5 501.3 699.7 501.1C700.9 500.9 703.5 498.4 704.6 497.7C705.7 497.0 708.3 495.3 709.4 495.1C710.5 494.9 712.8 497.2 713.9 496.3C715.0 495.4 717.7 488.5 718.9 487.8C720.1 487.1 722.7 490.1 723.9 490.3C725.1 490.5 727.7 488.9 728.9 489.1C730.1 489.3 732.6 489.9 733.8 491.7C735.0 493.4 737.2 502.7 738.8 504.1C740.4 505.5 745.6 503.6 747.8 503.7C750.0 503.8 756.0 504.2 757.7 504.7C759.4 505.2 761.5 507.8 762.7 507.6C763.9 507.4 766.4 503.3 767.6 502.7C768.8 502.1 771.4 502.1 772.6 502.3C773.8 502.5 776.0 503.8 777.6 504.1C779.2 504.5 784.8 505.4 786.5 505.3C788.2 505.2 790.7 503.4 791.9 503.3C793.1 503.2 795.4 504.0 796.5 504.7C797.6 505.4 800.2 508.7 801.4 509.0C802.6 509.3 805.2 507.8 806.4 507.6C807.6 507.4 810.2 508.1 811.4 507.6C812.6 507.1 815.3 504.0 816.4 503.7C817.5 503.4 819.8 505.9 820.9 505.3C822.0 504.7 824.8 499.6 825.9 498.7C827.0 497.8 829.6 498.3 830.7 497.7C831.8 497.1 834.4 494.4 835.6 493.7C836.8 493.0 839.4 491.7 840.6 492.1C841.8 492.5 844.5 496.4 845.6 497.1C846.7 497.8 849.1 497.3 850.2 497.7C851.3 498.1 853.9 498.4 855.1 500.1C856.3 501.8 858.9 510.8 860.1 512.0C861.3 513.2 863.9 510.5 865.1 510.2C866.3 509.9 868.9 509.2 870.0 509.2C871.1 509.2 873.3 510.1 874.4 510.0C875.5 509.9 878.2 508.3 879.4 508.6C880.6 508.9 883.2 513.0 884.4 512.6C885.6 512.2 888.2 506.5 889.3 505.6C890.4 504.7 892.8 505.5 893.9 505.3C895.0 505.1 897.7 504.3 898.9 504.3C900.1 504.3 902.6 505.1 903.8 505.3C905.0 505.5 907.7 506.2 908.8 506.2C909.9 506.2 911.5 507.0 913.2 505.6C914.9 504.2 921.4 495.5 923.1 494.3C924.8 493.1 926.9 495.3 928.1 495.3C929.3 495.3 932.0 494.3 933.1 494.3C934.2 494.3 936.6 495.2 937.7 495.1C938.8 495.0 941.4 494.0 942.5 493.8C943.6 493.6 945.9 493.0 947.0 493.3C948.1 493.6 951.1 496.2 952.3 496.3C953.5 496.4 956.3 494.4 957.5 494.3C958.7 494.2 961.2 495.0 962.3 495.1C963.4 495.2 966.1 495.2 967.2 495.3C968.3 495.4 970.7 495.5 971.8 496.3C972.9 497.1 975.6 501.1 976.8 502.3C978.0 503.5 980.7 505.3 981.8 506.2C982.9 507.1 985.2 509.7 986.3 510.2C987.4 510.7 990.1 510.1 991.3 510.2C992.5 510.3 995.2 510.8 996.3 511.0C997.4 511.2 999.9 512.1 1001.0 512.0C1002.1 511.9 1004.8 510.3 1006.0 510.2C1007.2 510.1 1009.9 510.9 1011.0 511.2C1012.1 511.5 1014.5 512.8 1015.6 513.0C1016.7 513.2 1019.9 513.0 1020.5 513.0" fill="none" stroke="#2846f0" stroke-width="1.05" stroke-linejoin="round"/>
<rect x="5" y="465" width="110" height="21" fill="#000" fill-opacity="0.6"/><rect x="5" y="465" width="2" height="21" fill="#11d011"/>
<text x="16" y="480.3" font-size="11" font-weight="bold" fill="#fff">RSI (14,70,30,1)</text>
<g font-size="10.6" fill="#444">
<line x1="1137" x2="1141.5" y1="495.3" y2="495.3" stroke="#8a8a8a" stroke-width="1" shape-rendering="crispEdges"/>
<text x="1144.5" y="499.1">50.0000</text>
<line x1="1137" x2="1141.5" y1="528.3" y2="528.3" stroke="#8a8a8a" stroke-width="1" shape-rendering="crispEdges"/>
<text x="1144.5" y="532.1">0.0000</text>
</g>
<g font-size="10.7" fill="#4a4a4a" text-anchor="middle">
<line x1="1.0" x2="1.0" y1="529.6" y2="531.9" stroke="#777" stroke-width="1.2"/>
<text x="9.7" y="545.6">Sep</text>
<line x1="33.8" x2="33.8" y1="529.6" y2="531.9" stroke="#777" stroke-width="1.2"/>
<text x="33.8" y="545.6">27</text>
<line x1="68.2" x2="68.2" y1="529.6" y2="531.9" stroke="#777" stroke-width="1.2"/>
<text x="68.2" y="545.6">28</text>
<line x1="102.0" x2="102.0" y1="529.6" y2="531.9" stroke="#777" stroke-width="1.2"/>
<text x="102.0" y="545.6">30</text>
<line x1="131.2" x2="131.2" y1="529.6" y2="531.9" stroke="#777" stroke-width="1.2"/>
<text x="131.2" y="545.6">Oct</text>
<line x1="155.5" x2="155.5" y1="529.6" y2="531.9" stroke="#777" stroke-width="1.2"/>
<text x="155.5" y="545.6">1</text>
<line x1="179.6" x2="179.6" y1="529.6" y2="531.9" stroke="#777" stroke-width="1.2"/>
<text x="179.6" y="545.6">4</text>
<line x1="204.2" x2="204.2" y1="529.6" y2="531.9" stroke="#777" stroke-width="1.2"/>
<text x="204.2" y="545.6">5</text>
<line x1="228.3" x2="228.3" y1="529.6" y2="531.9" stroke="#777" stroke-width="1.2"/>
<text x="228.3" y="545.6">6</text>
<line x1="252.5" x2="252.5" y1="529.6" y2="531.9" stroke="#777" stroke-width="1.2"/>
<text x="252.5" y="545.6">7</text>
<line x1="276.8" x2="276.8" y1="529.6" y2="531.9" stroke="#777" stroke-width="1.2"/>
<text x="276.8" y="545.6">7</text>
<line x1="301.2" x2="301.2" y1="529.6" y2="531.9" stroke="#777" stroke-width="1.2"/>
<text x="301.2" y="545.6">8</text>
<line x1="325.5" x2="325.5" y1="529.6" y2="531.9" stroke="#777" stroke-width="1.2"/>
<text x="325.5" y="545.6">11</text>
<line x1="349.9" x2="349.9" y1="529.6" y2="531.9" stroke="#777" stroke-width="1.2"/>
<text x="349.9" y="545.6">12</text>
<line x1="374.2" x2="374.2" y1="529.6" y2="531.9" stroke="#777" stroke-width="1.2"/>
<text x="374.2" y="545.6">13</text>
<line x1="398.5" x2="398.5" y1="529.6" y2="531.9" stroke="#777" stroke-width="1.2"/>
<text x="398.5" y="545.6">13</text>
<line x1="422.9" x2="422.9" y1="529.6" y2="531.9" stroke="#777" stroke-width="1.2"/>
<text x="422.9" y="545.6">14</text>
<line x1="447.2" x2="447.2" y1="529.6" y2="531.9" stroke="#777" stroke-width="1.2"/>
<text x="447.2" y="545.6">15</text>
<line x1="471.6" x2="471.6" y1="529.6" y2="531.9" stroke="#777" stroke-width="1.2"/>
<text x="471.6" y="545.6">18</text>
<line x1="495.5" x2="495.5" y1="529.6" y2="531.9" stroke="#777" stroke-width="1.2"/>
<text x="495.5" y="545.6">19</text>
<line x1="519.7" x2="519.7" y1="529.6" y2="531.9" stroke="#777" stroke-width="1.2"/>
<text x="519.7" y="545.6">19</text>
<line x1="544.2" x2="544.2" y1="529.6" y2="531.9" stroke="#777" stroke-width="1.2"/>
<text x="544.2" y="545.6">20</text>
<line x1="568.4" x2="568.4" y1="529.6" y2="531.9" stroke="#777" stroke-width="1.2"/>
<text x="568.4" y="545.6">21</text>
<line x1="592.7" x2="592.7" y1="529.6" y2="531.9" stroke="#777" stroke-width="1.2"/>
<text x="592.7" y="545.6">22</text>
<line x1="617.1" x2="617.1" y1="529.6" y2="531.9" stroke="#777" stroke-width="1.2"/>
<text x="617.1" y="545.6">25</text>
<line x1="641.4" x2="641.4" y1="529.6" y2="531.9" stroke="#777" stroke-width="1.2"/>
<text x="641.4" y="545.6">25</text>
<line x1="665.9" x2="665.9" y1="529.6" y2="531.9" stroke="#777" stroke-width="1.2"/>
<text x="665.9" y="545.6">26</text>
<line x1="690.1" x2="690.1" y1="529.6" y2="531.9" stroke="#777" stroke-width="1.2"/>
<text x="690.1" y="545.6">27</text>
<line x1="714.3" x2="714.3" y1="529.6" y2="531.9" stroke="#777" stroke-width="1.2"/>
<text x="714.3" y="545.6">28</text>
<line x1="757.7" x2="757.7" y1="529.6" y2="531.9" stroke="#777" stroke-width="1.2"/>
<text x="757.7" y="545.6">Nov</text>
<line x1="787.1" x2="787.1" y1="529.6" y2="531.9" stroke="#777" stroke-width="1.2"/>
<text x="787.1" y="545.6">2</text>
<line x1="816.4" x2="816.4" y1="529.6" y2="531.9" stroke="#777" stroke-width="1.2"/>
<text x="816.4" y="545.6">3</text>
<line x1="845.6" x2="845.6" y1="529.6" y2="531.9" stroke="#777" stroke-width="1.2"/>
<text x="845.6" y="545.6">4</text>
<line x1="874.4" x2="874.4" y1="529.6" y2="531.9" stroke="#777" stroke-width="1.2"/>
<text x="874.4" y="545.6">5</text>
<line x1="903.4" x2="903.4" y1="529.6" y2="531.9" stroke="#777" stroke-width="1.2"/>
<text x="903.4" y="545.6">7</text>
<line x1="937.7" x2="937.7" y1="529.6" y2="531.9" stroke="#777" stroke-width="1.2"/>
<text x="937.7" y="545.6">9</text>
<line x1="967.2" x2="967.2" y1="529.6" y2="531.9" stroke="#777" stroke-width="1.2"/>
<text x="967.2" y="545.6">10</text>
<line x1="996.3" x2="996.3" y1="529.6" y2="531.9" stroke="#777" stroke-width="1.2"/>
<text x="996.3" y="545.6">11</text>
<line x1="1025.5" x2="1025.5" y1="529.6" y2="531.9" stroke="#777" stroke-width="1.2"/>
<text x="1025.5" y="545.6">12</text>
<line x1="1054.7" x2="1054.7" y1="529.6" y2="531.9" stroke="#777" stroke-width="1.2"/>
<text x="1054.7" y="545.6">14</text>
<line x1="1083.6" x2="1083.6" y1="529.6" y2="531.9" stroke="#777" stroke-width="1.2"/>
<text x="1083.6" y="545.6">15</text>
<line x1="1112.6" x2="1112.6" y1="529.6" y2="531.9" stroke="#777" stroke-width="1.2"/>
<text x="1112.6" y="545.6">16</text>
</g>
</svg></body></html>
